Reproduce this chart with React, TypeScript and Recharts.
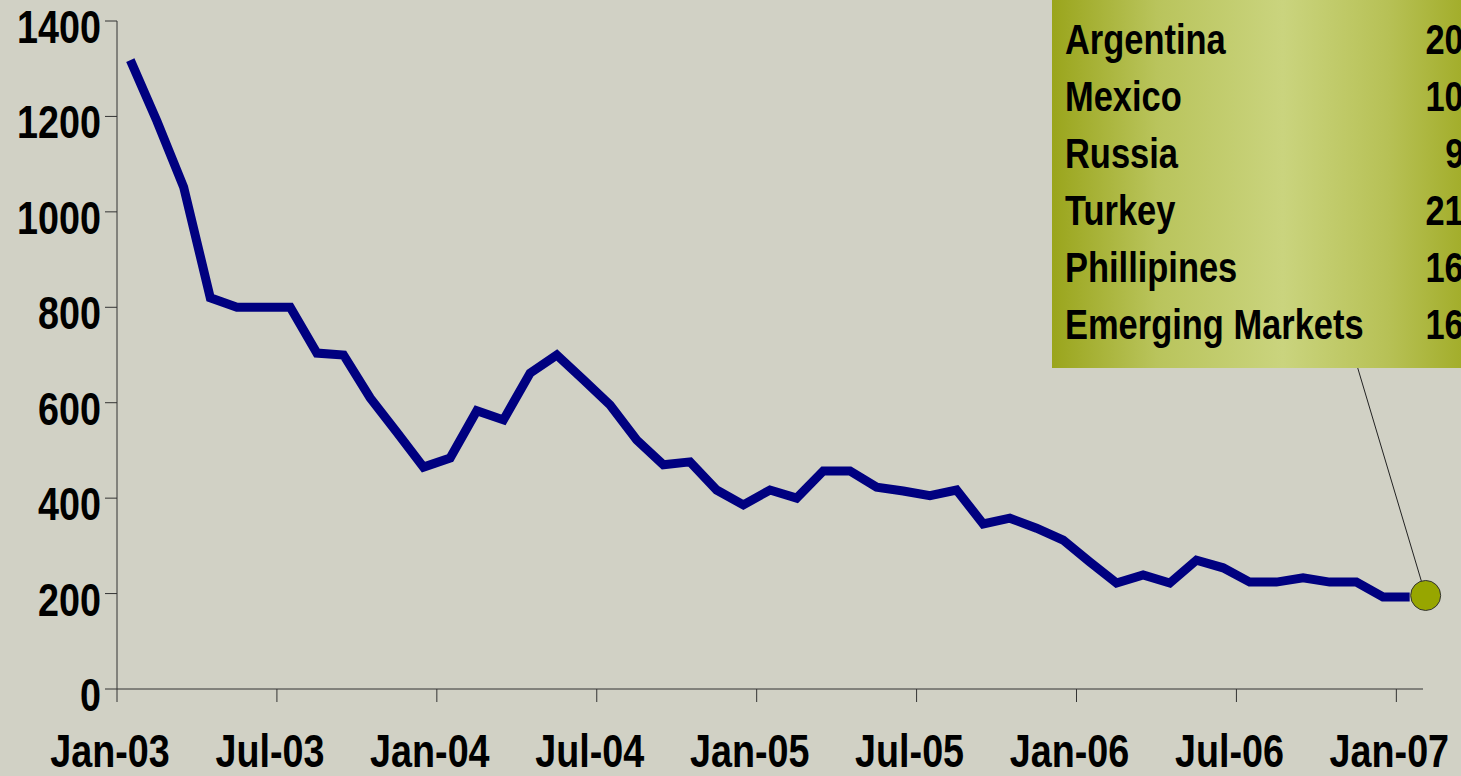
import React from "react";
import {
  LineChart,
  Line,
  XAxis,
  YAxis,
  ReferenceDot,
  ReferenceLine,
} from "recharts";

// Monthly spread readings, Jan-03 .. Jan-07
const months = [
  "Jan-03", "Feb-03", "Mar-03", "Apr-03", "May-03", "Jun-03", "Jul-03", "Aug-03", "Sep-03", "Oct-03", "Nov-03", "Dec-03",
  "Jan-04", "Feb-04", "Mar-04", "Apr-04", "May-04", "Jun-04", "Jul-04", "Aug-04", "Sep-04", "Oct-04", "Nov-04", "Dec-04",
  "Jan-05", "Feb-05", "Mar-05", "Apr-05", "May-05", "Jun-05", "Jul-05", "Aug-05", "Sep-05", "Oct-05", "Nov-05", "Dec-05",
  "Jan-06", "Feb-06", "Mar-06", "Apr-06", "May-06", "Jun-06", "Jul-06", "Aug-06", "Sep-06", "Oct-06", "Nov-06", "Dec-06",
  "Jan-07",
];

const spreads = [
  1318, 1190, 1052, 820, 800, 800, 800, 704, 700, 610, 538, 465,
  484, 583, 564, 662, 700, 648, 595, 522, 470, 476, 417, 386,
  417, 400, 457, 457, 423, 415, 405, 417, 346, 358, 337, 312,
  266, 222, 239, 222, 270, 254, 224, 224, 233, 224, 224, 193,
  193,
];

const tickLabels = ["Jan-03", "Jul-03", "Jan-04", "Jul-04", "Jan-05", "Jul-05", "Jan-06", "Jul-06", "Jan-07"];
const tickPositions = [0, 6, 12, 18, 24, 30, 36, 42, 48];
const yTicks = [0, 200, 400, 600, 800, 1000, 1200, 1400];

const latestValue = 196;
const latestPos = 49.1;
const calloutAnchor = { x: 46.55, y: 673 };

const countries = ["Argentina", "Mexico", "Russia", "Turkey", "Phillipines", "Emerging Markets"];
const countryValues = ["20", "10", "9", "21", "16", "16"];

// no narrow font installed, so squeeze Liberation Sans Bold horizontally
const FONT = "'Liberation Sans', Arial, sans-serif";
const NARROW = 0.82;

const data = spreads.map((v, i) => ({ month: months[i], pos: i + 0.5, spread: v }));

function YTick(props: any) {
  const { x, y, payload } = props;
  return (
    <g transform={`translate(${x},${y + 22}) scale(${NARROW},1)`}>
      <text x={0} y={0} textAnchor="end" fontFamily={FONT} fontWeight="bold" fontSize={46} fill="#000">
        {payload.value}
      </text>
    </g>
  );
}

function XTick(props: any) {
  const { x, y, payload } = props;
  const idx = tickPositions.indexOf(payload.value);
  return (
    <g transform={`translate(${x - 7},${y + 61}) scale(${NARROW},1)`}>
      <text x={0} y={0} textAnchor="middle" fontFamily={FONT} fontWeight="bold" fontSize={46} fill="#000">
        {tickLabels[idx]}
      </text>
    </g>
  );
}

const rowStyle: React.CSSProperties = {
  position: "absolute",
  lineHeight: "52px",
  whiteSpace: "nowrap",
};

export default function App() {
  return (
    <div
      style={{
        position: "fixed",
        left: 0,
        top: 0,
        width: 1461,
        height: 776,
        overflow: "hidden",
        background: "#d1d1c5",
      }}
    >
      <LineChart width={1461} height={776} data={data} margin={{ top: 21, right: 38, bottom: 0, left: 0 }}>
        <XAxis
          dataKey="pos"
          type="number"
          domain={[0, 49]}
          ticks={tickPositions}
          tick={<XTick />}
          tickSize={13}
          tickMargin={4}
          height={87}
          stroke="#333"
          allowDataOverflow
        />
        <YAxis
          type="number"
          domain={[0, 1400]}
          ticks={yTicks}
          tick={<YTick />}
          tickSize={12}
          tickMargin={4}
          width={117}
          stroke="#333"
        />
        <ReferenceLine
          segment={[calloutAnchor, { x: latestPos, y: latestValue }]}
          stroke="#222"
          strokeWidth={1}
          ifOverflow="visible"
        />
        <Line
          dataKey="spread"
          stroke="#000080"
          strokeWidth={9}
          strokeLinejoin="miter"
          dot={false}
          activeDot={false}
          isAnimationActive={false}
        />
        <ReferenceDot x={latestPos} y={latestValue} r={15} fill="#97a600" stroke="#333" strokeWidth={1} ifOverflow="visible" />
      </LineChart>
      <div
        style={{
          position: "absolute",
          left: 1052,
          top: 0,
          width: 420,
          height: 368,
          background:
            "linear-gradient(to right, #9aa51c 0%, #b9c45c 25%, #cad47e 55%, #b7c156 80%, #a0ab25 100%)",
          fontFamily: FONT,
          fontWeight: "bold",
          fontSize: 42,
          color: "#000",
        }}
      >
        {countries.map((c, i) => (
          <div
            key={c}
            style={{ ...rowStyle, top: 14 + i * 57, left: 13, transform: `scaleX(${NARROW})`, transformOrigin: "left center" }}
          >
            {c}
          </div>
        ))}
        {countryValues.map((v, i) => (
          <div
            key={i}
            style={{
              ...rowStyle,
              top: 14 + i * 57,
              right: 1052 + 420 - 1464,
              textAlign: "right",
              transform: `scaleX(${NARROW})`,
              transformOrigin: "right center",
            }}
          >
            {v}
          </div>
        ))}
      </div>
    </div>
  );
}
